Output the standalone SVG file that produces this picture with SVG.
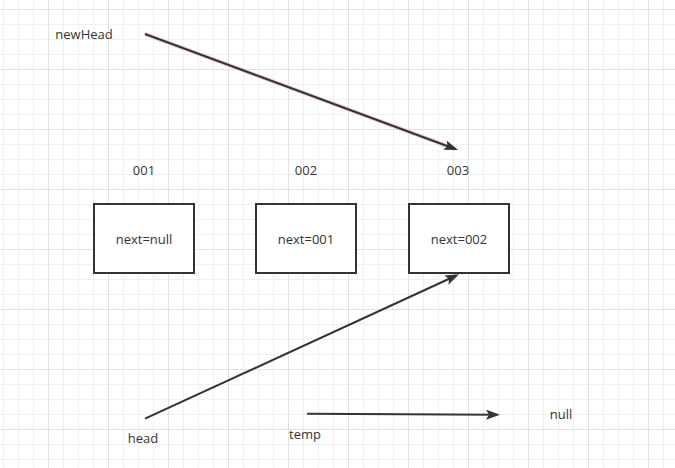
<svg xmlns="http://www.w3.org/2000/svg" width="675" height="468" viewBox="0 0 675 468">
<defs>
<pattern id="grid" x="48" y="9" width="60" height="60" patternUnits="userSpaceOnUse">
<path d="M15.5 0V60M30.5 0V60M45.5 0V60M0 15.5H60M0 30.5H60M0 45.5H60" stroke="#f0f0f0" stroke-width="1" fill="none"/>
<path d="M0.5 0V60M0 0.5H60" stroke="#e2e2e2" stroke-width="1" fill="none"/>
</pattern>
<marker id="arr" viewBox="0 0 14 10" markerWidth="14" markerHeight="10" refX="11" refY="5" orient="auto" markerUnits="userSpaceOnUse">
<path d="M0,0 L14,5 L0,10 L3,5 Z" fill="#333333"/>
</marker>
</defs>
<style>
.t{font-family:"Open Sans","Liberation Sans",sans-serif;font-size:13px;fill:#333333;text-anchor:middle}
.box{fill:#ffffff;stroke:#333333;stroke-width:2}
.ln{stroke:#333333;stroke-width:2;fill:none;marker-end:url(#arr)}
</style>
<rect width="675" height="468" fill="#ffffff"/>
<rect width="675" height="468" fill="url(#grid)"/>

<g id="connectors">
<line x1="145" y1="34" x2="455.2" y2="149" stroke="#e8b4b4" stroke-width="4" opacity="0.6"/>
<line class="ln" x1="145" y1="34" x2="455.2" y2="149"/>
<line class="ln" x1="145" y1="418.7" x2="456.3" y2="275.5"/>
<line class="ln" x1="307" y1="413.7" x2="497" y2="414.7"/>
</g>

<g id="newHead"><text class="t" x="84" y="39">newHead</text></g>
<g id="label001"><text class="t" x="144" y="175">001</text></g>
<g id="label002"><text class="t" x="306" y="175">002</text></g>
<g id="label003"><text class="t" x="458" y="175">003</text></g>

<g id="node001"><rect class="box" x="94" y="204" width="100" height="69"/><text class="t" x="144" y="244">next=null</text></g>
<g id="node002"><rect class="box" x="256" y="204" width="100" height="69"/><text class="t" x="306" y="244">next=001</text></g>
<g id="node003"><rect class="box" x="409" y="204" width="100" height="69"/><text class="t" x="459" y="244">next=002</text></g>

<g id="head"><text class="t" x="143" y="443">head</text></g>
<g id="temp"><text class="t" x="305" y="439">temp</text></g>
<g id="null"><text class="t" x="561" y="419">null</text></g>
</svg>
